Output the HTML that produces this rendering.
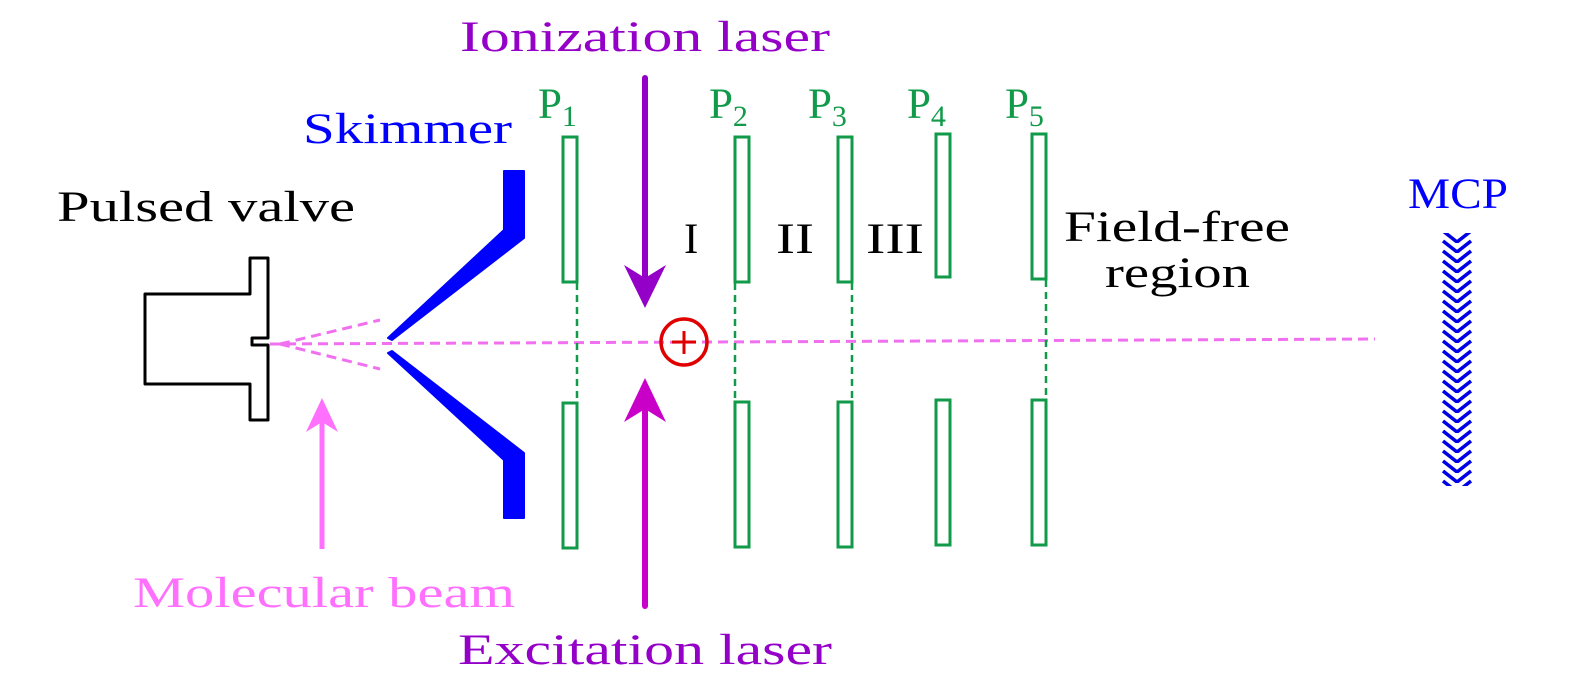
<!DOCTYPE html>
<html><head><style>
body{margin:0;background:#fff;}
svg text{font-family:"Liberation Serif",serif;}
</style></head><body>
<svg width="1575" height="689" viewBox="0 0 1575 689" xmlns="http://www.w3.org/2000/svg">
<defs>
<pattern id="chev" x="1442" y="233" width="30" height="10" patternUnits="userSpaceOnUse">
<path d="M1,-2 L15,9 L29,-2" fill="none" stroke="#0000e6" stroke-width="3.5"/>
<path d="M1,8 L15,19 L29,8" fill="none" stroke="#0000e6" stroke-width="3.5"/>
</pattern>
</defs>
<path d="M145,294 H250 V258 H268 V338 H252 V345 H268 V420 H250 V384 H145 Z" fill="none" stroke="#000" stroke-width="3" stroke-linejoin="round"/>
<line x1="270" y1="344" x2="1375" y2="339" stroke="#f070f0" stroke-width="3" stroke-dasharray="10,6"/>
<line x1="280" y1="344" x2="380" y2="320" stroke="#f070f0" stroke-width="3" stroke-dasharray="10,6"/>
<line x1="280" y1="344" x2="380" y2="369" stroke="#f070f0" stroke-width="3" stroke-dasharray="10,6"/>
<path d="M504,171 H524 V238 L392,340 L388,338 L504,230 Z" fill="#0000ff" stroke="#0000ff" stroke-width="2" stroke-linejoin="round"/>
<path d="M504,518 H524 V453 L392,351 L388,353 L504,460 Z" fill="#0000ff" stroke="#0000ff" stroke-width="2" stroke-linejoin="round"/>
<g fill="none" stroke="#119a4a" stroke-width="3">
<rect x="563" y="137" width="14" height="145"/><rect x="563" y="403" width="14" height="145"/>
<rect x="735" y="137" width="14" height="145"/><rect x="735" y="402" width="14" height="145"/>
<rect x="838" y="137" width="14" height="145"/><rect x="838" y="402" width="14" height="145"/>
<rect x="936" y="134" width="14" height="143"/><rect x="936" y="400" width="14" height="145"/>
<rect x="1032" y="134" width="14" height="145"/><rect x="1032" y="400" width="14" height="145"/>
</g>
<g stroke="#119a4a" stroke-width="2.5" stroke-dasharray="7,5">
<line x1="577" y1="283" x2="577" y2="402"/>
<line x1="735" y1="283" x2="735" y2="401"/>
<line x1="852" y1="283" x2="852" y2="401"/>
<line x1="1046" y1="280" x2="1046" y2="399"/>
</g>
<circle cx="684" cy="342" r="23" fill="none" stroke="#e00000" stroke-width="3.5"/>
<line x1="672" y1="342" x2="696" y2="342" stroke="#e00000" stroke-width="3"/>
<line x1="684" y1="331" x2="684" y2="354" stroke="#e00000" stroke-width="3"/>
<line x1="645" y1="78" x2="645" y2="290" stroke="#9400c8" stroke-width="6" stroke-linecap="round"/>
<path d="M645,308 L624,265 L645,278 L666,265 Z" fill="#9400c8"/>
<line x1="645" y1="606" x2="645" y2="395" stroke="#c800c8" stroke-width="6" stroke-linecap="round"/>
<path d="M645,378 L624,422 L645,409 L666,422 Z" fill="#c800c8"/>
<line x1="322" y1="549" x2="322" y2="410" stroke="#ff70ff" stroke-width="5"/>
<path d="M322,398 L306,432 L322,422 L338,432 Z" fill="#ff70ff"/>
<rect x="1442" y="233" width="30" height="253" fill="url(#chev)"/>
<g font-size="43">
<text x="460" y="51" textLength="370" lengthAdjust="spacingAndGlyphs" fill="#9400c8">Ionization laser</text>
<text x="458" y="664" textLength="374" lengthAdjust="spacingAndGlyphs" fill="#9400c8">Excitation laser</text>
<text x="133" y="607" textLength="382" lengthAdjust="spacingAndGlyphs" fill="#ff70ff">Molecular beam</text>
<text x="57" y="221" textLength="298" lengthAdjust="spacingAndGlyphs" fill="#000">Pulsed valve</text>
<text x="303" y="143" textLength="209" lengthAdjust="spacingAndGlyphs" fill="#0000ff">Skimmer</text>
<text x="1408" y="208" textLength="100" lengthAdjust="spacingAndGlyphs" fill="#0000ff">MCP</text>
<text x="684" y="253" fill="#000">I</text>
<text x="776" y="253" textLength="38" lengthAdjust="spacingAndGlyphs" fill="#000">II</text>
<text x="866" y="253" textLength="58" lengthAdjust="spacingAndGlyphs" fill="#000">III</text>
<text x="1064" y="241" textLength="226" lengthAdjust="spacingAndGlyphs" fill="#000">Field-free</text>
<text x="1105" y="287" textLength="145" lengthAdjust="spacingAndGlyphs" fill="#000">region</text>
</g>
<g font-size="43" fill="#119a4a">
<text x="538" y="118">P<tspan font-size="30" dy="8">1</tspan></text>
<text x="709" y="118">P<tspan font-size="30" dy="8">2</tspan></text>
<text x="808" y="118">P<tspan font-size="30" dy="8">3</tspan></text>
<text x="907" y="118">P<tspan font-size="30" dy="8">4</tspan></text>
<text x="1005" y="118">P<tspan font-size="30" dy="8">5</tspan></text>
</g>
</svg>
</body></html>
